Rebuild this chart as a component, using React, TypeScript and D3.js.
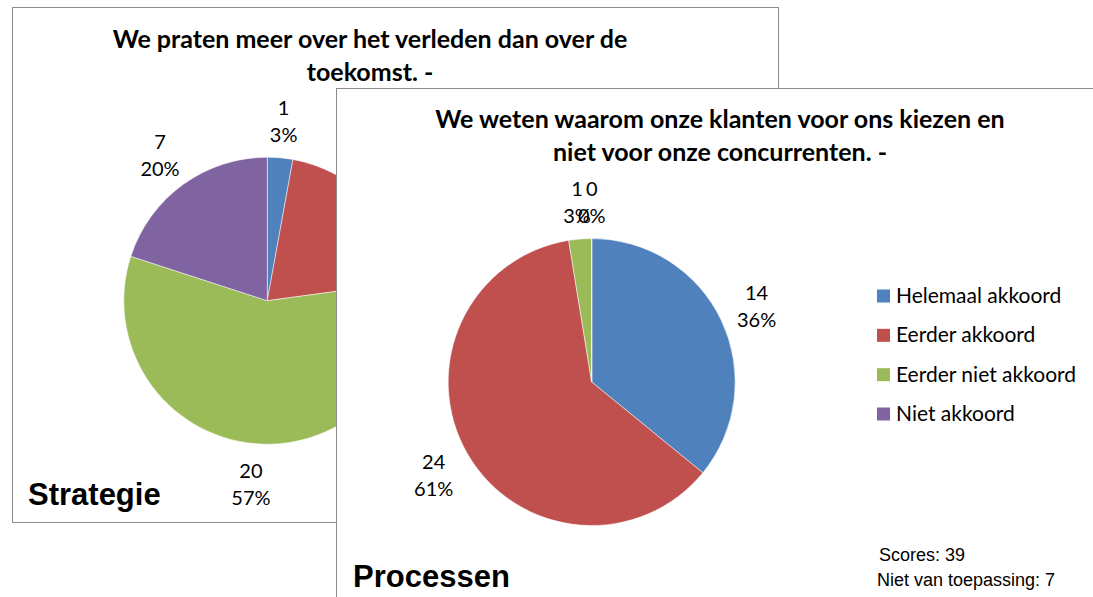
import React, { useRef, useEffect } from 'react';
import * as d3 from 'd3';

// answer categories, shared by both charts
const categories = ['Helemaal akkoord', 'Eerder akkoord', 'Eerder niet akkoord', 'Niet akkoord'];
const colors = ['#4F81BD', '#C0504D', '#9BBB59', '#8064A2'];

// Strategie (back chart)
const strategieTitle = ['We praten meer over het verleden dan over de', 'toekomst. -'];
const strategieValues = [1, 7, 20, 7];
const strategiePercents = ['3%', '20%', '57%', '20%'];

// Processen (front chart)
const processenTitle = ['We weten waarom onze klanten voor ons kiezen en', 'niet voor onze concurrenten. -'];
const processenValues = [14, 24, 1, 0];
const processenPercents = ['36%', '61%', '3%', '0%'];

const notes = ['Scores: 39', 'Niet van toepassing: 7'];

const W = 1093;
const H = 597;
const labelFont = 'Lato, "Open Sans", sans-serif';
const boldFont = '"Liberation Sans", Arial, sans-serif';

const drawPie = (g, values, percents, cx, cy, r) => {
    const pie = d3.pie().sort(null).value(d => d)(values);
    const arc = d3.arc().innerRadius(0).outerRadius(r);
    const labelArc = d3.arc().innerRadius(r + 39).outerRadius(r + 39);
    const color = d3.scaleOrdinal(categories, colors);

    const pg = g.append('g').attr('transform', `translate(${cx},${cy})`);
    pg.selectAll('path')
        .data(pie)
        .join('path')
        .attr('d', arc)
        .attr('fill', (d, i) => color(categories[i]))
        .attr('stroke', '#ffffff')
        .attr('stroke-width', 0.5);

    const lbl = pg.selectAll('g.lbl')
        .data(pie)
        .join('g')
        .attr('class', 'lbl')
        .attr('transform', d => `translate(${labelArc.centroid(d)})`);
    lbl.append('text')
        .attr('text-anchor', 'middle')
        .attr('y', -4)
        .style('font-family', labelFont)
        .style('font-size', '20px')
        .attr('fill', '#000')
        .text(d => d.data);
    lbl.append('text')
        .attr('text-anchor', 'middle')
        .attr('y', 23)
        .style('font-family', labelFont)
        .style('font-size', '20px')
        .attr('fill', '#000')
        .text((d, i) => percents[i]);
};

const drawTitle = (g, lines, cx, y) => {
    g.append('text')
        .attr('text-anchor', 'middle')
        .style('font-family', labelFont)
        .style('font-weight', 'bold')
        .style('font-size', '25px')
        .attr('fill', '#000')
        .selectAll('tspan')
        .data(lines)
        .join('tspan')
        .attr('x', cx)
        .attr('y', (d, i) => y + i * 33)
        .text(d => d);
};

const App = () => {
    const ref = useRef();

    useEffect(() => {
        const svg = d3.select(ref.current);
        svg.selectAll('*').remove();
        svg.attr('width', W).attr('height', H).style('background', 'white');

        // back panel: Strategie
        const back = svg.append('g');
        back.append('rect')
            .attr('x', 12.5).attr('y', 7.5)
            .attr('width', 766).attr('height', 515)
            .attr('fill', '#fff').attr('stroke', '#8c8c8c');
        drawTitle(back, strategieTitle, 370, 48);
        drawPie(back, strategieValues, strategiePercents, 267.3, 300.7, 143.5);
        back.append('text')
            .attr('x', 28).attr('y', 505)
            .style('font-family', boldFont)
            .style('font-weight', 'bold')
            .style('font-size', '31px')
            .text('Strategie');

        // front panel: Processen
        const front = svg.append('g');
        front.append('rect')
            .attr('x', 336.5).attr('y', 88.5)
            .attr('width', 800).attr('height', 600)
            .attr('fill', '#fff').attr('stroke', '#8c8c8c');
        drawTitle(front, processenTitle, 720, 128);
        drawPie(front, processenValues, processenPercents, 591.7, 382, 143.5);
        front.append('text')
            .attr('x', 353).attr('y', 587)
            .style('font-family', boldFont)
            .style('font-weight', 'bold')
            .style('font-size', '31px')
            .text('Processen');

        // legend
        const y = d3.scalePoint().domain(categories).range([296, 414]);
        const leg = front.selectAll('g.leg')
            .data(categories)
            .join('g')
            .attr('class', 'leg')
            .attr('transform', d => `translate(877,${y(d)})`);
        leg.append('rect')
            .attr('x', 0).attr('y', -6.5)
            .attr('width', 13).attr('height', 13)
            .attr('fill', (d, i) => colors[i]);
        leg.append('text')
            .attr('x', 19).attr('y', 7)
            .style('font-family', labelFont)
            .style('font-size', '21px')
            .attr('fill', '#000')
            .text(d => d);

        front.selectAll('text.note')
            .data(notes)
            .join('text')
            .attr('class', 'note')
            .attr('x', (d, i) => (i === 0 ? 879 : 877))
            .attr('y', (d, i) => 561 + i * 25)
            .style('font-family', boldFont)
            .style('font-size', '18px')
            .text(d => d);
    }, []);

    return (
        <div style={{ position: 'absolute', left: 0, top: 0 }}>
            <svg ref={ref} style={{ display: 'block' }}></svg>
        </div>
    );
};

export default App;
